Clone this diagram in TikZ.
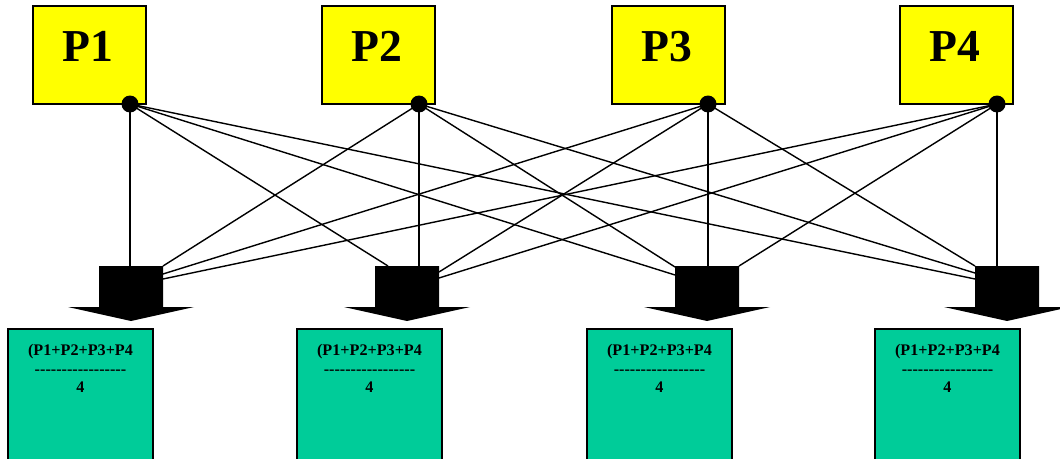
\documentclass[tikz,border=0pt]{standalone}
\usepackage{fontspec}
\setmainfont{Liberation Serif}
\usepackage{tikz}
\usetikzlibrary{calc}
\tikzset{>=latex}
\definecolor{pyellow}{RGB}{255,255,0}
\definecolor{avggreen}{RGB}{0,204,153}
\tikzset{
  pbox/.style = {draw = black, fill = pyellow, line width = 1pt, inner sep = 0,
    minimum width = 2.26cm, minimum height = 1.96cm},
  ptext/.style = {anchor = base, inner sep = 0, font = \fontsize{26}{30}\selectfont\bfseries},
  avgbox/.style = {draw = black, fill = avggreen, line width = 1pt, inner sep = 0,
    anchor = north, minimum width = 2.9cm, minimum height = 3.4cm},
  avgtext/.style = {anchor = north, inner sep = 0, align = center,
    font = \fontsize{9.2}{10.5}\selectfont\bfseries},
  wire/.style = {line width = 0.8pt}
}
\newcommand{\dashrow}{\foreach \k in {1,...,17}{-\kern0pt}}
\newcommand{\avgformula}{(P1+P2+P3+P4\\\dashrow\\4}
% block arrow pointing down, #1 = centre x, #2 = name
\newcommand{\blockarrow}[2]{%
  \fill[black] (#1-32,266) -- (#1+32,266) -- (#1+32,307) -- (#1+63,307)
    -- (#1,321) -- (#1-63,307) -- (#1-32,307) -- cycle;
  \coordinate (#2l) at (#1-32,266);
  \coordinate (#2r) at (#1+32,266);}

\begin{document}
\begin{tikzpicture}[x=0.02cm, y=-0.02cm]
\clip (0,0) rectangle (1060,459);

% sources
\node[pbox] (p1) at (89.5, 55) {};
\node[pbox] (p2) at (378.5, 55) {};
\node[pbox] (p3) at (668.5, 55) {};
\node[pbox] (p4) at (956.5, 55) {};
\node[ptext] (t1) at (87.5, 62) {P1};
\node[ptext] (t2) at (376.5, 62) {P2};
\node[ptext] (t3) at (666.5, 62) {P3};
\node[ptext] (t4) at (954.5, 62) {P4};
\coordinate (d1) at (130, 104);
\coordinate (d2) at (419, 104);
\coordinate (d3) at (708, 104);
\coordinate (d4) at (997, 104);

% arrows
\blockarrow{131}{a1}
\blockarrow{407}{a2}
\blockarrow{707}{a3}
\blockarrow{1007}{a4}

% wires
\draw[wire] (d1) -- (d1 |- a1l);
\draw[wire] (d2) -- (a1r);
\draw[wire] (d3) -- ($(a1r)+(0,8)$);
\draw[wire] (d4) -- ($(a1r)+(0,13)$);
\draw[wire] (d2) -- (d2 |- a2l);
\draw[wire] (d1) -- ($(a2l)+(13,0)$);
\draw[wire] (d3) -- ($(a2r)+(0,6)$);
\draw[wire] (d4) -- ($(a2r)+(0,12)$);
\draw[wire] (d3) -- (d3 |- a3l);
\draw[wire] (d2) -- ($(a3l)+(0,1)$);
\draw[wire] (d1) -- ($(a3l)+(0,9)$);
\draw[wire] (d4) -- (a3r);
\draw[wire] (d4) -- (d4 |- a4l);
\draw[wire] (d3) -- (a4l);
\draw[wire] (d2) -- ($(a4l)+(0,7)$);
\draw[wire] (d1) -- ($(a4l)+(0,13)$);

\fill (d1) circle [radius = 0.17cm];
\fill (d2) circle [radius = 0.17cm];
\fill (d3) circle [radius = 0.17cm];
\fill (d4) circle [radius = 0.17cm];

% results
\node[avgbox] (g1) at (80.5, 328) {};
\node[avgbox] (g2) at (369.5, 328) {};
\node[avgbox] (g3) at (659.5, 328) {};
\node[avgbox] (g4) at (947.5, 328) {};
\node[avgtext] (f1) at ($(g1.north)+(0,16)$) {\avgformula};
\node[avgtext] (f2) at ($(g2.north)+(0,16)$) {\avgformula};
\node[avgtext] (f3) at ($(g3.north)+(0,16)$) {\avgformula};
\node[avgtext] (f4) at ($(g4.north)+(0,16)$) {\avgformula};
\end{tikzpicture}
\end{document}
